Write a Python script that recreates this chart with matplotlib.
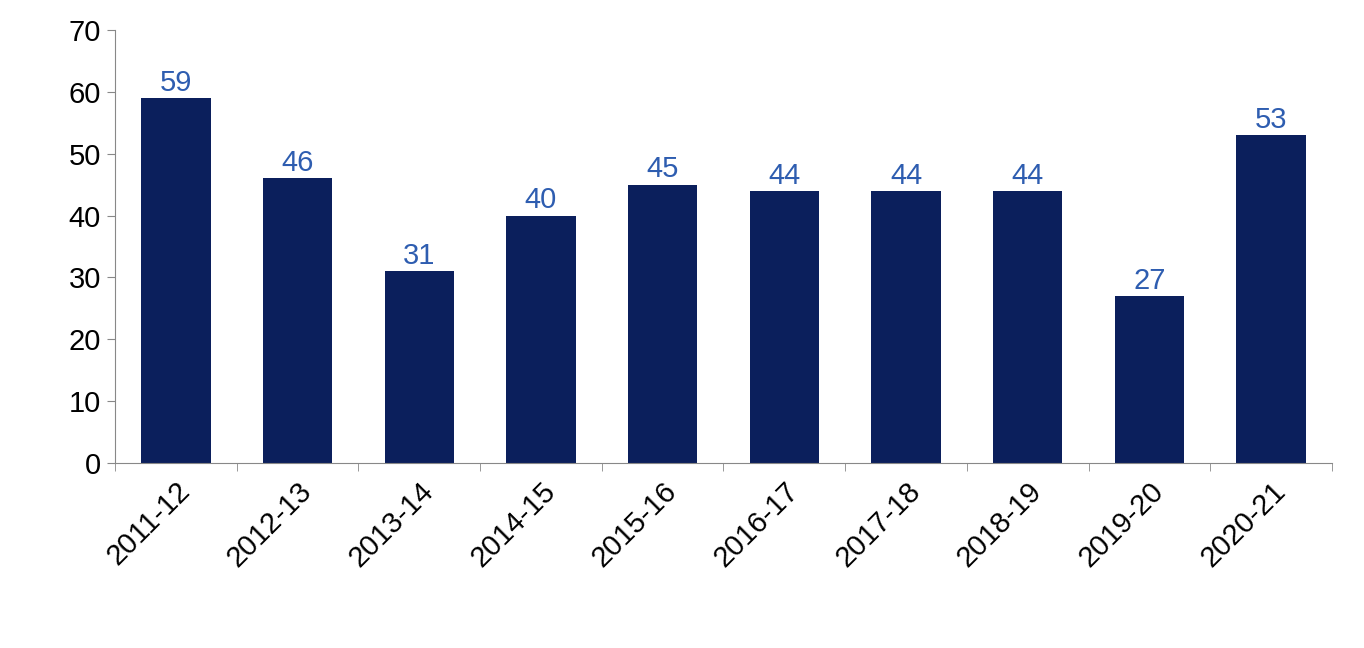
import matplotlib
matplotlib.use("Agg")
import matplotlib.pyplot as plt
import numpy as np

categories = ["2011-12","2012-13","2013-14","2014-15","2015-16","2016-17","2017-18","2018-19","2019-20","2020-21"]
values = [59, 46, 31, 40, 45, 44, 44, 44, 27, 53]

plt.rcParams['font.family'] = ['Liberation Sans', 'DejaVu Sans']
fig = plt.figure(figsize=(13.64, 6.48), dpi=100)
ax = fig.add_axes([0.0843, 0.2855, 0.8922, 0.6682])
x = np.arange(len(categories))
ax.bar(x, values, width=0.57, color='#0B1F5C')
for xi, v in zip(x, values):
    ax.text(xi, v + 0.2, str(v), ha='center', va='bottom', fontsize=21, color='#2E5DB0')
ax.set_xlim(-0.5, len(categories) - 0.5)
ax.set_ylim(0, 70)
ax.set_yticks(range(0, 71, 10))
ax.tick_params(axis='y', labelsize=21, length=6, color='#888888', pad=4)
ax.set_xticks(x)
ax.set_xticklabels(categories, rotation=45, ha='right', rotation_mode='anchor', fontsize=21)
ax.tick_params(axis='x', length=0, pad=10)
ax.set_xticks(np.arange(-0.5, len(categories)), minor=True)
ax.tick_params(axis='x', which='minor', length=6, color='#888888')
for s in ['top', 'right']:
    ax.spines[s].set_visible(False)
for s in ['left', 'bottom']:
    ax.spines[s].set_color('#888888')
fig.savefig('out.png', dpi=100)
